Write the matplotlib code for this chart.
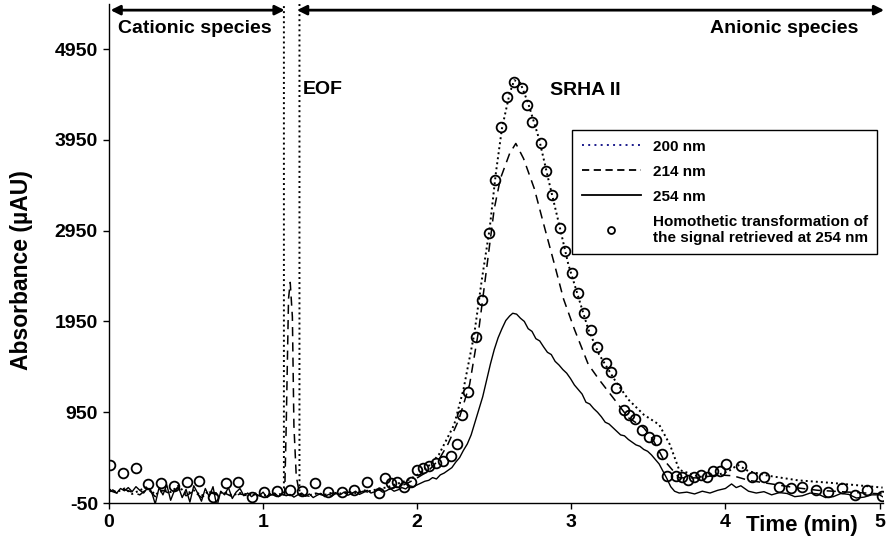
import numpy as np
import matplotlib
matplotlib.use("Agg")
import matplotlib.pyplot as plt
from matplotlib.lines import Line2D
from matplotlib.transforms import blended_transform_factory

plt.rcParams['font.family'] = ['Liberation Sans', 'DejaVu Sans']
plt.rcParams['font.weight'] = 'bold'

# ---------------- data ----------------
# 254 nm (solid)
t_254_base = np.round(np.arange(81) * 0.025, 3)
v_254_base = [70, 95, 60, 110, 85, 120, 75, 130, 90, 60, 115, 80,
              -60, 120, 40, 150, -20, 90, 130, 10, 100, -40, 140, 60,
              -30, 110, 20, 130, -90, 80, 40, 120, 0, 70, 110, 30,
              60, 20, 50, 30, 70, 10, 40, 60, 20, 50, 30, 45,
              15, 40, 60, 25, 50, 10, 35, 55, 20, 45, 30, 60,
              40, 70, 35, 55, 80, 45, 65, 90, 60, 75, 100, 70,
              85, 110, 80, 95, 120, 105, 140, 130, 150]
t_254_peak = [2.05, 2.075, 2.10, 2.125, 2.15, 2.175, 2.20, 2.225, 2.25, 2.275,
              2.30, 2.325, 2.35, 2.375, 2.40, 2.425, 2.45, 2.475, 2.50, 2.525,
              2.55, 2.575, 2.60, 2.62, 2.645, 2.67, 2.695, 2.72, 2.745, 2.77,
              2.795, 2.82, 2.845, 2.87, 2.895, 2.92, 2.945, 2.97, 2.995, 3.02,
              3.045, 3.07, 3.095, 3.12, 3.145, 3.17, 3.195, 3.22, 3.245, 3.27,
              3.295, 3.32, 3.345, 3.37, 3.395, 3.42, 3.445, 3.47, 3.495, 3.52,
              3.545, 3.57, 3.595, 3.62, 3.645, 3.67, 3.70, 3.75, 3.80, 3.85,
              3.90, 3.95, 4.00, 4.04, 4.07, 4.10, 4.15, 4.20, 4.25, 4.30,
              4.35, 4.40, 4.45, 4.50, 4.55, 4.60, 4.65, 4.70, 4.75, 4.80,
              4.85, 4.90, 4.95, 5.00, 5.02]
v_254_peak = [190, 200, 230, 215, 260, 280, 310, 340, 400, 450,
              530, 600, 700, 840, 980, 1120, 1300, 1480, 1640, 1770,
              1870, 1960, 2010, 2040, 2030, 1985, 1950, 1870, 1840, 1760,
              1735, 1670, 1610, 1585, 1510, 1470, 1420, 1380, 1320, 1250,
              1200, 1150, 1060, 1040, 990, 950, 900, 840, 820, 780,
              740, 700, 690, 650, 620, 590, 575, 540, 520, 480,
              430, 380, 300, 220, 130, 80, 60, 70, 50, 80,
              60, 90, 110, 160, 120, 140, 80, 60, 75, 40,
              65, 55, 20, 30, 60, 50, 10, 20, 55, 45,
              5, 15, 40, 40, 20]

# 214 nm (dashed)
t_214 = [0.00, 0.05, 0.10, 0.15, 0.20, 0.25, 0.30, 0.35, 0.40, 0.45, 0.50, 0.55,
         0.60, 0.65, 0.70, 0.75, 0.80, 0.85, 0.90, 0.95, 1.00, 1.05, 1.10,
         1.14, 1.15, 1.165, 1.176, 1.19, 1.20, 1.215, 1.235,
         1.25, 1.30, 1.35, 1.40, 1.45, 1.50, 1.55, 1.60, 1.65, 1.70, 1.75, 1.80,
         1.85, 1.90, 1.95,
         2.00, 2.07, 2.14, 2.20, 2.27, 2.34, 2.40, 2.45, 2.50, 2.54, 2.60, 2.64,
         2.69, 2.76, 2.82, 2.89, 2.95, 3.02, 3.11, 3.18, 3.28, 3.37, 3.47, 3.53,
         3.60, 3.70, 3.83, 3.95, 4.05, 4.15, 4.30, 4.45, 4.60, 4.80, 5.02]
v_214 = [90, 60, 100, 70, 40, 110, 20, 90, 50, 120, 30, 80,
         10, 70, 40, 60, 20, 50, 30, 45, 15, 40, 35,
         40, 800, 2200, 2380, 2000, 800, 250, 60,
         40, 25, 55, 30, 60, 45, 70, 50, 80, 65, 95, 90,
         120, 140, 180,
         227, 300, 426, 600, 868, 1255, 1864, 2527, 3191, 3523, 3800, 3910,
         3744, 3412, 3025, 2583, 2195, 1864, 1477, 1310, 1090, 890, 780, 647,
         426, 227, 227, 260, 250, 200, 160, 120, 90, 70, 50]

# 200 nm (dotted) - EOF peak goes off scale
t_200 = [0.00, 0.05, 0.10, 0.15, 0.20, 0.25, 0.30, 0.35, 0.40, 0.45, 0.50, 0.55,
         0.60, 0.65, 0.70, 0.75, 0.80, 0.85, 0.90, 0.95, 1.00, 1.05,
         1.10, 1.135, 1.135, 1.236, 1.236,
         1.25, 1.30, 1.35, 1.40, 1.45, 1.50, 1.55, 1.60, 1.65, 1.70, 1.75, 1.80,
         1.85, 1.90, 1.95,
         2.00, 2.07, 2.14, 2.24, 2.30, 2.37, 2.42, 2.47, 2.51, 2.55, 2.60, 2.63,
         2.67, 2.72, 2.79, 2.85, 2.92, 2.98, 3.05, 3.11, 3.18, 3.28, 3.37, 3.47,
         3.57, 3.64, 3.70, 3.83, 3.95, 4.02, 4.08, 4.15, 4.28, 4.47, 4.70, 5.02]
v_200 = [100, 70, 110, 50, 90, 130, 40, 100, 70, 140, 50, 90,
         30, 80, 55, 70, 35, 60, 45, 55, 30, 50,
         45, 55, 7000, 7000, 50,
         45, 35, 60, 40, 65, 55, 75, 60, 90, 80, 110, 120,
         150, 180, 210,
         260, 350, 481, 813, 1200, 1808, 2417, 2970, 3578, 4076, 4463, 4607,
         4574, 4353, 3965, 3523, 3025, 2583, 2195, 1864, 1587, 1310, 1090, 923,
         813, 592, 315, 238, 260, 300, 370, 300, 250, 200, 170, 120]

# Homothetic transformation of the 254 nm signal (open circles)
t_homo = [0.006, 0.091, 0.175, 0.253, 0.337, 0.421, 0.505, 0.583, 0.674, 0.758,
          0.836, 0.926, 1.004, 1.088, 1.172, 1.250, 1.334, 1.418, 1.509, 1.593,
          1.671, 1.749, 1.788, 1.833, 1.872, 1.917, 1.962, 2.001, 2.040, 2.079,
          2.124, 2.170, 2.221, 2.260, 2.293, 2.332, 2.383, 2.422, 2.468, 2.506,
          2.545, 2.584, 2.630, 2.681, 2.714, 2.746, 2.805, 2.837, 2.876, 2.927,
          2.960, 3.005, 3.044, 3.083, 3.128, 3.167, 3.225, 3.258, 3.290, 3.342,
          3.374, 3.413, 3.459, 3.504, 3.549, 3.588, 3.620, 3.679, 3.718, 3.756,
          3.795, 3.841, 3.880, 3.918, 3.964, 4.003, 4.100, 4.171, 4.249, 4.346,
          4.424, 4.495, 4.585, 4.663, 4.754, 4.838, 4.916, 5.013]
v_homo = [368, 280, 335, 159, 170, 137, 181, 192, 16, 170,
          181, 16, 71, 82, 93, 82, 170, 71, 71, 93,
          181, 60, 225, 170, 181, 126, 181, 313, 335, 357,
          390, 412, 467, 600, 919, 1172, 1778, 2185, 2923, 3506,
          4090, 4420, 4585, 4519, 4332, 4145, 3914, 3605, 3341, 2978,
          2725, 2482, 2262, 2042, 1855, 1668, 1491, 1392, 1216, 974,
          919, 875, 754, 677, 644, 489, 247, 247, 236, 203,
          236, 258, 236, 302, 302, 379, 357, 236, 236, 126,
          115, 126, 93, 71, 115, 38, 93, 27]

x_ticks = [0, 1, 2, 3, 4, 5]
y_ticks = [-50, 950, 1950, 2950, 3950, 4950]
legend_labels = ['200 nm', '214 nm', '254 nm',
                 'Homothetic transformation of\nthe signal retrieved at 254 nm']

# ---------------- figure ----------------
fig = plt.figure(figsize=(8.89, 5.47), dpi=100)
ax = fig.add_axes([0.1226, 0.0804, 0.8702, 0.9130])

ax.plot(t_homo, v_homo, ls='none', marker='o', ms=7, mfc='none', mec='black',
        mew=1.3, zorder=2)
ax.plot(t_200, v_200, color='black', lw=1.4, ls=(0, (1, 1.6)), zorder=3)
ax.plot(t_214, v_214, color='black', lw=1.1, ls=(0, (6, 4)), zorder=3)
ax.plot(np.concatenate([t_254_base, t_254_peak]),
        np.concatenate([v_254_base, v_254_peak]),
        color='black', lw=1.0, zorder=4)

ax.set_xlim(0, 5.02)
ax.set_ylim(-50, 5450)
ax.set_xticks(x_ticks)
ax.set_yticks(y_ticks)
ax.set_xticklabels([str(v) for v in x_ticks], fontsize=14, fontweight='bold')
ax.set_yticklabels([str(v) for v in y_ticks], fontsize=14, fontweight='bold')
ax.tick_params(direction='out', length=4, width=1, pad=4)
for s in ['top', 'right']:
    ax.spines[s].set_visible(False)
for s in ['left', 'bottom']:
    ax.spines[s].set_linewidth(1.0)

fig.text(0.024, 0.506, 'Absorbance (µAU)', rotation=90, ha='center', va='center',
         fontsize=16.5, fontweight='bold')
tr = blended_transform_factory(ax.transData, ax.transAxes)
ax.text(4.495, -0.046, 'Time (min)', transform=tr, ha='center', va='center',
        fontsize=16, fontweight='bold')

# region arrows
ax.annotate('', xy=(0.01, 5378), xytext=(1.14, 5378),
            arrowprops=dict(arrowstyle='<|-|>', color='black', lw=2,
                            mutation_scale=14, shrinkA=0, shrinkB=0),
            annotation_clip=False)
ax.annotate('', xy=(1.22, 5378), xytext=(5.03, 5378),
            arrowprops=dict(arrowstyle='<|-|>', color='black', lw=2,
                            mutation_scale=14, shrinkA=0, shrinkB=0),
            annotation_clip=False)
ax.text(0.058, 5180, 'Cationic species', ha='left', va='center', fontsize=14,
        fontweight='bold')
ax.text(4.864, 5180, 'Anionic species', ha='right', va='center', fontsize=14,
        fontweight='bold')
ax.text(1.256, 4508, 'EOF', ha='left', va='center', fontsize=14, fontweight='bold')
ax.text(2.863, 4497, 'SRHA II', ha='left', va='center', fontsize=14,
        fontweight='bold')

handles = [
    Line2D([], [], color='#1a1a8c', lw=1.4, ls=(0, (1, 2.2))),
    Line2D([], [], color='black', lw=1.3, ls=(0, (4, 2.5))),
    Line2D([], [], color='black', lw=1.3),
    Line2D([], [], ls='none', marker='o', ms=5, mfc='none', mec='black', mew=1.3),
]
leg = ax.legend(handles, legend_labels, loc='upper left',
                bbox_to_anchor=(0.599, 0.746), frameon=True, fancybox=False,
                edgecolor='black', framealpha=1,
                prop=dict(weight='bold', size=11), handlelength=3.9,
                labelspacing=0.72, borderpad=0.6, handletextpad=0.75,
                borderaxespad=0)
leg.get_frame().set_linewidth(1.0)

fig.savefig('out.png', dpi=100)
